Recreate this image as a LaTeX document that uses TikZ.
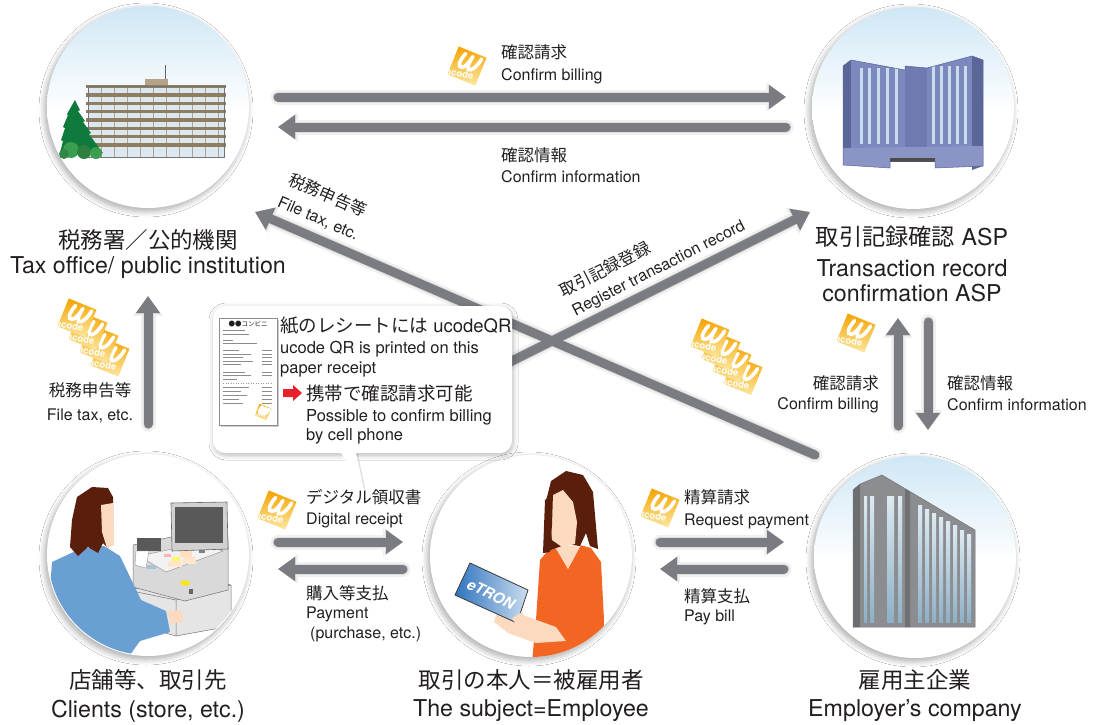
\documentclass[tikz,border=0pt]{standalone}
\usepackage{fontspec}
\setmainfont{TeX Gyre Heros}
\newfontfamily\jpf{Noto Sans CJK JP}
\usetikzlibrary{arrows.meta,shadows.blur}

\definecolor{ink}{HTML}{231F20}
\definecolor{arrowgray}{HTML}{7B7C81}
\definecolor{sky}{HTML}{CFE7F5}
\definecolor{ucodeA}{HTML}{F5A300}
\definecolor{ucodeB}{HTML}{FCE7A0}
\definecolor{winblue}{HTML}{DCE8EF}
\definecolor{floorbrown}{HTML}{8E7C63}
\definecolor{roofbrown}{HTML}{B3A389}
\definecolor{treegreen}{HTML}{0E7A3C}
\definecolor{bushgreen}{HTML}{3A9E50}
\definecolor{aspmain}{HTML}{7D88BE}
\definecolor{aspdark}{HTML}{5A6598}
\definecolor{aspmid}{HTML}{6F7AB1}
\definecolor{aspstripe}{HTML}{C8DCEB}
\definecolor{hair}{HTML}{5A1E0D}
\definecolor{skin}{HTML}{FCDAC0}
\definecolor{shirtblue}{HTML}{6A9FD4}
\definecolor{shirtorange}{HTML}{F26522}
\definecolor{tabblue}{HTML}{2F74BE}
\definecolor{bldgray}{HTML}{8C8D91}
\definecolor{blddark}{HTML}{6C6D71}
\definecolor{glassA}{HTML}{DDEAF2}
\definecolor{glassB}{HTML}{8DB0C6}
\definecolor{alertred}{HTML}{E8202A}

% sky fades from the top edge into white at mid height
\pgfdeclareverticalshading{skyfade}{100bp}{color(0bp)=(white); color(25bp)=(white); color(49bp)=(white); color(75bp)=(sky); color(100bp)=(sky)}

\tikzset{
  station/.style={circle, minimum size=202pt, inner sep=0pt,
    blur shadow={shadow xshift=-2pt, shadow yshift=-3pt, shadow blur radius=6pt,
                 shadow blur steps=10, shadow opacity=35}},
  skystation/.style={station, shade, shading=skyfade},
  plainstation/.style={station, fill=white},
  flow/.style={draw=arrowgray, line width=9pt, line cap=round,
               -{Triangle[width=23pt,length=17pt]}},
  flowhaze/.style={draw=black!6, line width=15pt, line cap=round,
               -{Triangle[width=28pt,length=20pt]}},
  flowshade/.style={draw=black!13, line width=11pt, line cap=round,
               -{Triangle[width=25pt,length=18pt]}},
  jpbig/.style={font=\jpf\fontsize{22.5}{27}\selectfont},
  enbig/.style={font=\fontsize{23.2}{27}\selectfont},
  jpsmall/.style={font=\jpf\fontsize{16.5}{20}\selectfont},
  ensmall/.style={font=\fontsize{16}{19}\selectfont},
  jpnote/.style={font=\jpf\fontsize{18.5}{22}\selectfont},
  ennote/.style={font=\fontsize{16.5}{20}\selectfont},
  ucode/.pic={
    \path[top color=ucodeA, bottom color=ucodeB] (-15,-15) rectangle (15,15);
    \draw[white, line width=3.6pt, line cap=round]
      (-6,-11) .. controls (-9,-2) and (-9,5) .. (-4,3) .. controls (-1,2) and (1,-5) .. (2,-11)
      (2,-11) .. controls (0,-2) and (1,5) .. (5,2) .. controls (8,0) and (10,-6) .. (11,-12);
    \node[text=white, font=\fontsize{9.5}{10}\selectfont\bfseries, rotate=12] at (-4,10) {ucode};
  },
}

\begin{document}
\begin{tikzpicture}[x=1pt, y=-1pt, every node/.style={text=ink, inner sep=0pt}]
\useasboundingbox[fill=white] (0,0) rectangle (1093,724);

% ---------- stations ----------
\node[skystation]   (tax)  at (148,107) {};
\node[skystation]   (asp)  at (913,108) {};
\node[plainstation] (shop) at (148,555) {};
\node[plainstation] (emp)  at (531,556) {};
\node[skystation]   (corp) at (915,557) {};

% ---------- tax office building ----------
\draw[line width=1pt, black!60] (165,65) -- (165,79);
\fill[roofbrown] (145,79) rectangle (168,86);
\fill[winblue] (88,86) rectangle (224,157);
\foreach \xx in {101,114,...,218} \draw[floorbrown!70, line width=0.7pt] (\xx,86) -- (\xx,157);
\foreach \yy in {86.5,95,103.3,111.6,120,128.3,136.6,145}
  \fill[floorbrown] (86,\yy-1.7) rectangle (226,\yy+1.7);
\draw[black!55, line width=0.6pt] (88,86) rectangle (224,157);
\fill[treegreen] (75,100) -- (80,110) -- (78,111) -- (85,121) -- (83,122) -- (91,133)
  -- (89,134) -- (97,145) -- (103,153) -- (60,153) -- (63,141) -- (61,140) -- (65,128)
  -- (63,127) -- (68,115) -- (67,114) -- cycle;
\fill[bushgreen] (71,150) circle[radius=8];
\fill[bushgreen!80!black] (84,152) circle[radius=7];
\fill[bushgreen] (96,153) circle[radius=6];
\fill[bushgreen!85!black] (64,154) circle[radius=5];

% ---------- ASP tower ----------
\fill[aspdark] (843,66) -- (851,60) -- (851,160) -- (843,164) -- cycle;
\fill[aspmain] (851,60) -- (905,70) -- (905,150) -- (851,150) -- cycle;
\fill[aspmid] (905,66) -- (927,68) -- (927,150) -- (905,150) -- cycle;
\fill[aspmain] (927,68) -- (972,56) -- (972,150) -- (927,150) -- cycle;
\fill[aspdark] (972,56) -- (983,60) -- (983,166) -- (972,170) -- cycle;
\fill[aspmain!90!white] (843,148) -- (983,146) -- (983,166) -- (935,168) -- (935,161)
  -- (890,161) -- (890,168) -- (843,165) -- cycle;
\fill[black!70] (890,158) rectangle (935,162);
\foreach \xx in {860,868,877,886,895} \fill[aspstripe] (\xx,68) rectangle (\xx+2.6,144);
\foreach \xx in {932,940,948,956,964} \fill[aspstripe] (\xx,66) rectangle (\xx+2.6,144);
\draw[aspdark, line width=0.5pt] (843,66) -- (851,60) -- (905,70) -- (905,66) -- (927,68)
  -- (972,56) -- (983,60) -- (983,166) -- (935,168) -- (935,161) -- (890,161) -- (890,168)
  -- (843,165) -- cycle;

% ---------- shop counter ----------
\begin{scope}
\clip (148,555) circle[radius=100];
\fill[black!10] (127,590) -- (200,578) -- (231,585) -- (231,626) -- (176,636) -- (127,622) -- cycle;
\draw[black!55, line width=0.5pt] (127,590) -- (200,578) -- (231,585) -- (231,626) -- (176,636) -- (127,622) -- cycle;
\draw[black!55, line width=0.5pt] (127,590) -- (176,600) -- (231,585) (176,600) -- (176,636);
\fill[black!15] (133,545) -- (200,531) -- (228,540) -- (228,590) -- (185,601) -- (133,587) -- cycle;
\draw[black!55, line width=0.5pt] (133,545) -- (200,531) -- (228,540) -- (228,590) -- (185,601) -- (133,587) -- cycle;
\fill[black!5] (139,556) -- (200,543) -- (223,551) -- (166,572) -- cycle;
\draw[black!45, line width=0.4pt] (139,556) -- (200,543) -- (223,551) -- (166,572) -- cycle;
\fill[red!30] (164,554) rectangle (171,557);
\fill[yellow!60] (172,557) rectangle (180,561);
\fill[orange!25] (180,551) rectangle (192,557);
\fill[orange!20] (168,561) rectangle (182,567);
\fill[orange!20] (183,557) rectangle (196,564);
\fill[cyan!50!black!40] (147,565) rectangle (156,569);
\fill[black!50] (199,549) rectangle (205,553);
\fill[yellow!90!orange] (185,583) ellipse[x radius=5, y radius=2.5];
\fill[black!60] (189,589) rectangle (193,594);
\fill[black!18] (171,503) -- (227,502) -- (228,549) -- (172,551) -- cycle;
\draw[black!60, line width=0.6pt] (171,503) -- (227,502) -- (228,549) -- (172,551) -- cycle;
\fill[black!65] (175,507) rectangle (223,543);
\fill[black!65] (137,538) rectangle (161,551);
\fill[white] (136,551) -- (149,551) -- (146,568) -- (135,565) -- cycle;
\draw[black!40, line width=0.4pt] (136,551) -- (149,551) -- (146,568) -- (135,565) -- cycle;
% cashier seen from behind
\fill[shirtblue] (52,562) -- (80,549) -- (104,546) -- (120,556) -- (141,600) -- (166,611)
  -- (170,632) -- (140,641) -- (125,662) -- (45,662) -- cycle;
\fill[skin] (167,611) -- (181,610) -- (184,621) -- (171,624) -- cycle;
\fill[hair] (72,520) -- (77,497) -- (92,487) -- (108,488) -- (113,497) -- (113,540)
  -- (108,548) -- (103,543) -- (98,553) -- (88,547) -- (78,556) -- (70,547) -- cycle;
\fill[skin] (101,505) -- (113,503) -- (114,545) -- (107,548) -- (102,532) -- cycle;
\end{scope}

% ---------- employee ----------
\begin{scope}
\clip (531,556) circle[radius=101];
\fill[shirtorange] (540,560) -- (552,546) -- (560,547) -- (568,568) -- (580,545) -- (591,548)
  -- (601,562) -- (604,620) -- (602,662) -- (532,662) -- (536,620) -- cycle;
\fill[skin] (555,547) -- (581,545) -- (568,569) -- cycle;
\fill[hair] (551,481) -- (566,471) -- (583,475) -- (593,492) -- (595,515) -- (598,549)
  -- (590,546) -- (586,533) -- (580,546) -- (568,544) -- (553,549) -- (544,553)
  -- (547,530) -- (545,505) -- cycle;
\fill[skin] (551,496) -- (563,490) -- (573,502) -- (577,522) -- (575,544) -- (562,547)
  -- (552,540) -- (550,520) -- cycle;
\fill[hair] (545,500) -- (553,493) -- (552,525) -- (550,552) -- (543,553) -- cycle;
\fill[skin] (497,612) -- (520,614) -- (556,627) -- (566,641) -- (536,643) -- (508,633) -- (494,622) -- cycle;
\fill[left color=tabblue, right color=tabblue!25!white] (470,563) -- (528,590) -- (517,623) -- (455,595) -- cycle;
\draw[black!75, line width=0.8pt] (470,563) -- (528,590) -- (517,623) -- (455,595) -- cycle;
\node[text=white, rotate=-25, font=\fontsize{15}{15}\selectfont\bfseries\itshape] at (491,594) {eTRON};
\fill[skin] (512,618) -- (522,612) -- (528,622) -- (518,628) -- cycle;
\end{scope}

% ---------- employer office tower ----------
\fill[bldgray] (853,490) -- (860,484) -- (882,475) -- (975,530) -- (975,627) -- (853,627) -- cycle;
\fill[blddark] (853,490) -- (860,484) -- (860,627) -- (853,627) -- cycle;
\fill[bldgray!80!black] (905,489) -- (910,492) -- (910,627) -- (905,627) -- cycle;
\foreach \xx/\ww in {864/3,870/4,887/7,898/4} \fill[top color=glassA, bottom color=glassB] (\xx,496) rectangle (\xx+\ww,622);
\foreach \xx in {918,925,932,939,946,953,960,967}
  \fill[top color=glassA, bottom color=glassB] (\xx,{475+0.591*(\xx-882)+9}) rectangle (\xx+4,622);
\draw[black!55, line width=0.5pt] (853,490) -- (860,484) -- (882,475) -- (975,530) -- (975,627) -- (853,627) -- cycle;

% ---------- flows ----------
\coordinate (a1s) at (278,97);  \coordinate (a1e) at (786,97);
\coordinate (a2s) at (786,127); \coordinate (a2e) at (278,127);
\coordinate (a3s) at (148,424); \coordinate (a3e) at (148,296);
\coordinate (a4s) at (815,455); \coordinate (a4e) at (255,212);
\coordinate (a5s) at (470,382); \coordinate (a5e) at (810,212);
\coordinate (a6s) at (898,426); \coordinate (a6e) at (898,318);
\coordinate (a7s) at (928,322); \coordinate (a7e) at (928,430);
\coordinate (b1s) at (278,542); \coordinate (b1e) at (403,542);
\coordinate (b2s) at (403,569); \coordinate (b2e) at (278,569);
\coordinate (b3s) at (660,542); \coordinate (b3e) at (784,542);
\coordinate (b4s) at (784,569); \coordinate (b4e) at (660,569);

% soft shadow under every flow, then the flows themselves
\begin{scope}[shift={(1,3)}]
\foreach \p/\q in {a1s/a1e,a2s/a2e,a3s/a3e,a4s/a4e,a5s/a5e,a6s/a6e,a7s/a7e,b1s/b1e,b2s/b2e,b3s/b3e,b4s/b4e}
  \draw[flowhaze] (\p) -- (\q);
\foreach \p/\q in {a1s/a1e,a2s/a2e,a3s/a3e,a4s/a4e,a5s/a5e,a6s/a6e,a7s/a7e,b1s/b1e,b2s/b2e,b3s/b3e,b4s/b4e}
  \draw[flowshade] (\p) -- (\q);
\end{scope}
\draw[flow] (a1s) -- (a1e);
\draw[flow] (a2s) -- (a2e);
\draw[flow] (a3s) -- (a3e);
\draw[flow] (a4s) -- (a4e);
\draw[flow] (a5s) -- (a5e);
\draw[flow] (a6s) -- (a6e);
\draw[flow] (a7s) -- (a7e);
\draw[flow] (b1s) -- (b1e);
\draw[flow] (b2s) -- (b2e);
\draw[flow] (b3s) -- (b3e);
\draw[flow] (b4s) -- (b4e);

% ---------- receipt callout ----------
\fill[black!12] (340,450) -- (357,450) -- (366,492) -- cycle;
\node[fill=white, rounded corners=12pt, minimum width=299pt, minimum height=147pt,
      blur shadow={shadow xshift=1pt, shadow yshift=-2pt, shadow blur radius=5pt, shadow opacity=30}]
      (note) at (362.5,379.5) {};
\fill[white] (338,448) -- (355,448) -- (364,490) -- cycle;
\fill[black!20] (221,320) rectangle (279,427);
\fill[white] (219,318) rectangle (277,425);
\draw[black!45, line width=0.5pt] (219,318) rectangle (277,425);
\node[font=\jpf\fontsize{6.5}{7}\selectfont] (shopname) at (248,324) {●●コンビニ};
\foreach \yy/\ll in {330/22,334/26,340/10,343/34,350/16,354/28,357/20,361/30,364/18,
                     372/22,375/28,379/14,387/26,391/18,395/24,399/16,403/20}
  \draw[black!45, line width=0.6pt] (223,\yy) -- (223+\ll,\yy);
\foreach \yy in {350,354,357,361,364,372,375,387,391,395,399,403}
  \draw[black!45, line width=0.6pt] (262,\yy) -- (272,\yy);
\draw[black!40, dotted, line width=0.5pt] (223,383) -- (273,383);
\pic[rotate=-22, scale=0.42, transform shape] at (263,412) {ucode};

\node[font=\fontsize{18.5}{22}\selectfont, anchor=west] (n1) at (280,326) {{\jpf 紙のレシートには} ucodeQR};
\node[ennote, anchor=west] (n2) at (280,349) {ucode QR is printed on this};
\node[ennote, anchor=west] (n3) at (280,369) {paper receipt};
\fill[alertred] (283,389) -- (293,389) -- (293,385) -- (302,393) -- (293,401) -- (293,397) -- (283,397) -- cycle;
\node[jpnote, anchor=west] (n4) at (306,393) {携帯で確認請求可能};
\node[ennote, anchor=west] (n5) at (306,417) {Possible to confirm billing};
\node[ennote, anchor=west] (n6) at (306,436) {by cell phone};

% ---------- station captions ----------
\node[jpbig] (taxj) at (148,240) {税務署／公的機関};
\node[enbig] (taxe) at (148,268) {Tax office/ public institution};
\node[enbig] (aspj) at (912,237) {{\jpf 取引記録確認} ASP};
\node[enbig] (aspe1) at (912,268) {Transaction record};
\node[enbig] (aspe2) at (912,293) {confirmation ASP};
\node[jpbig] (shopj) at (148,680) {店舗等、取引先};
\node[enbig] (shope) at (148,711) {Clients (store, etc.)};
\node[jpbig] (empj) at (531,680) {取引の本人＝被雇用者};
\node[enbig] (empe) at (531,711) {The subject=Employee};
\node[jpbig] (corpj) at (915,680) {雇用主企業};
\node[enbig] (corpe) at (915,711) {Employer's company};

% ---------- flow captions ----------
\node[jpsmall, anchor=west] (l1j) at (501,52) {確認請求};
\node[ensmall, anchor=west] (l1e) at (501,76) {Confirm billing};
\node[jpsmall, anchor=west] (l2j) at (501,155) {確認情報};
\node[ensmall, anchor=west] (l2e) at (501,177) {Confirm information};
\node[jpsmall] (l3j) at (90,390) {税務申告等};
\node[ensmall] (l3e) at (90,416) {File tax, etc.};
\node[jpsmall, rotate=-23.5] (l4j) at (328,195) {税務申告等};
\node[ensmall, rotate=-23.5] (l4e) at (318,219) {File tax, etc.};
\node[jpsmall, rotate=27] (l5j) at (605,269) {取引記録登録};
\node[ensmall, rotate=27] (l5e) at (659,269) {Register transaction record};
\node[jpsmall, anchor=east] (l6j) at (879,383) {確認請求};
\node[ensmall, anchor=east] (l6e) at (879,405) {Confirm billing};
\node[jpsmall, anchor=west] (l7j) at (947,383) {確認情報};
\node[ensmall, anchor=west] (l7e) at (947,405) {Confirm information};
\node[jpsmall, anchor=west] (l8j) at (306,497) {デジタル領収書};
\node[ensmall, anchor=west] (l8e) at (306,520) {Digital receipt};
\node[jpsmall, anchor=west] (l9j) at (306,593) {購入等支払};
\node[ensmall, anchor=west] (l9e) at (306,614) {Payment};
\node[ensmall, anchor=west] (l9f) at (310,634) {(purchase, etc.)};
\node[jpsmall, anchor=west] (l10j) at (684,497) {精算請求};
\node[ensmall, anchor=west] (l10e) at (684,521) {Request payment};
\node[jpsmall, anchor=west] (l11j) at (684,596) {精算支払};
\node[ensmall, anchor=west] (l11e) at (684,617) {Pay bill};

% ---------- ucode tags ----------
\pic[rotate=-22, transform shape] at (467,66) {ucode};
\pic[rotate=-22, transform shape] at (856,333) {ucode};
\pic[rotate=-22, transform shape] at (277,510) {ucode};
\pic[rotate=-22, transform shape] at (660,508) {ucode};
\foreach \k in {3,2,1,0} {
  \pic[rotate=-22, transform shape] at (77+11*\k,318+13*\k) {ucode};
  \pic[rotate=-22, transform shape] at (710+11*\k,338+12.5*\k) {ucode};
}
\end{tikzpicture}
\end{document}
